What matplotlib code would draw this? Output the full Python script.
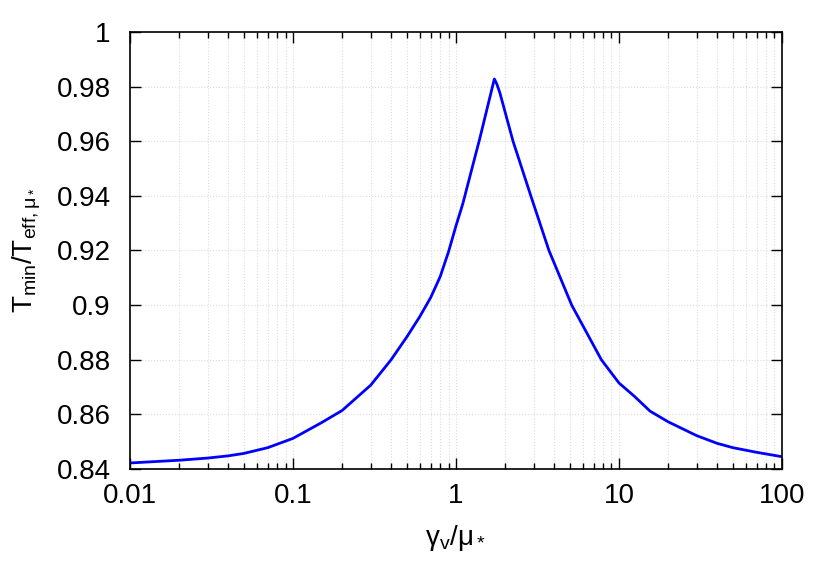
import numpy as np
import matplotlib
matplotlib.use("Agg")
import matplotlib.pyplot as plt
from matplotlib.ticker import FuncFormatter, LogLocator, MultipleLocator

plt.rcParams['font.family'] = ['Liberation Sans', 'DejaVu Sans']
plt.rcParams['mathtext.fontset'] = 'custom'
plt.rcParams['mathtext.rm'] = 'Liberation Sans'
plt.rcParams['mathtext.it'] = 'Liberation Sans'

# curve (gamma_v/mu_*, T_min/T_eff)
gamma_ratio = [0.01, 0.02, 0.03, 0.04, 0.05, 0.07, 0.1, 0.15, 0.2, 0.3, 0.4, 0.5,
               0.6, 0.7, 0.8, 0.9, 1.0, 1.1, 1.4, 1.72, 1.78, 1.86, 2.24, 2.88,
               3.72, 5.13, 7.8, 10.0, 12.5, 15.5, 20.0, 30.0, 40.0, 50.0, 70.0, 100.0]
t_ratio = [0.8422, 0.8432, 0.8440, 0.8448, 0.8457, 0.8478, 0.8512, 0.8570, 0.8614, 0.8707,
           0.8800, 0.8884, 0.8958, 0.9028, 0.9104, 0.9195, 0.9290, 0.9370, 0.9610, 0.9828,
           0.9810, 0.9777, 0.9600, 0.9400, 0.9200, 0.9000, 0.8800, 0.8715, 0.8665, 0.8612,
           0.8573, 0.8522, 0.8494, 0.8478, 0.8461, 0.8445]

fig = plt.figure(figsize=(8.3, 5.81), dpi=100)
ax = fig.add_axes([0.1566, 0.1928, 0.7855, 0.7521])

ax.plot(gamma_ratio, t_ratio, color='#0000ff', lw=2)

ax.set_xscale('log')
ax.set_xlim(0.01, 100)
ax.set_ylim(0.84, 1.0)
ax.yaxis.set_major_locator(MultipleLocator(0.02))
ax.xaxis.set_major_locator(LogLocator(base=10, numticks=10))
ax.xaxis.set_minor_locator(LogLocator(base=10, subs=np.arange(2, 10), numticks=100))
fmt = FuncFormatter(lambda v, p: '%g' % v)
ax.xaxis.set_major_formatter(fmt)
ax.yaxis.set_major_formatter(fmt)

ax.tick_params(which='both', direction='in', top=True, right=True, labelsize=20, width=1)
ax.tick_params(which='major', length=8)
ax.tick_params(axis='y', which='major', pad=14)
ax.tick_params(axis='x', which='major', pad=10)
ax.tick_params(which='minor', length=4)
ax.tick_params(axis='y', which='minor', left=False, right=False)

ax.grid(which='major', color='#dcdcdc', ls=':', lw=0.8)
ax.grid(which='minor', axis='x', color='#dcdcdc', ls=':', lw=0.8)
for s in ax.spines.values():
    s.set_linewidth(1.2)

ax.set_xlabel(r'$\mathregular{γ_v/μ_*}$', fontsize=20, labelpad=10)
ax.set_ylabel(r'$\mathregular{T_{min}/T_{eff,μ_*}}$', fontsize=20, labelpad=10)

fig.savefig('out.png', dpi=100)
